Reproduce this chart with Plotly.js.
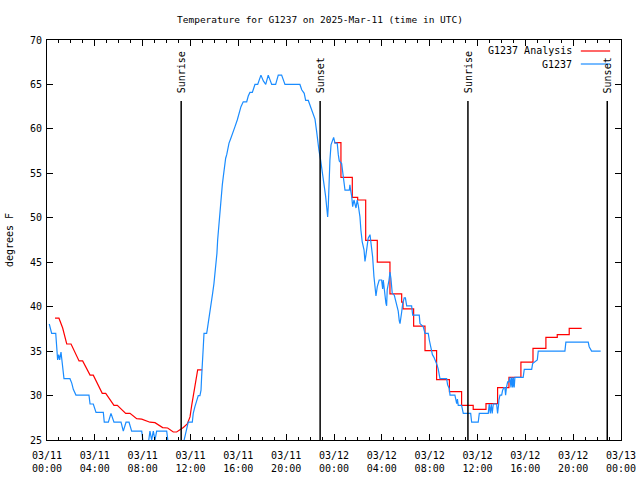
<!DOCTYPE html>
<html>
<head>
<meta charset="utf-8">
<script src="https://cdn.plot.ly/plotly-3.0.1.min.js"></script>
<style>html,body{margin:0;padding:0;background:#fff;}#chart{width:640px;height:480px;}</style>
</head>
<body>
<div id="chart"></div>
<script>
// Hours since 2025-03-11 00:00 UTC
var startUTC = Date.UTC(2025, 2, 11);

// G1237 observations
var obsHours = [0.19,0.29,0.39,0.73,0.89,0.98,1.06,1.17,1.25,1.31,1.42,1.92,2.07,2.20,2.42,3.51,3.60,3.87,4.10,4.71,4.79,5.13,5.35,5.60,6.19,6.38,6.61,6.86,7.08,7.92,8.05,8.47,8.61,8.75,8.89,9.03,9.17,10.01,10.14,11.40,11.54,11.68,11.81,12.15,12.23,12.37,12.52,12.65,12.79,12.88,12.93,12.98,13.07,13.13,13.35,13.40,13.55,13.69,13.77,13.85,13.96,14.05,14.13,14.21,14.27,14.38,14.46,14.55,14.66,14.74,14.82,14.94,15.03,15.11,15.22,15.36,15.58,15.72,15.91,16.08,16.22,16.41,16.70,16.83,16.97,17.17,17.39,17.62,17.89,18.09,18.29,18.50,18.79,19.12,19.34,19.62,19.90,21.15,21.30,21.51,21.63,21.85,21.99,22.13,22.27,22.41,22.55,22.63,22.74,22.88,22.97,23.10,23.19,23.30,23.39,23.47,23.52,23.58,23.66,23.75,23.89,23.97,24.08,24.27,24.36,24.44,24.64,24.72,24.77,24.83,24.92,25.28,25.33,25.39,25.48,25.56,25.67,25.84,25.94,26.03,26.17,26.25,26.36,26.51,26.59,26.67,26.78,26.86,27.01,27.15,27.23,27.34,27.42,27.51,27.62,27.70,27.78,27.98,28.07,28.12,28.20,28.34,28.40,28.45,28.60,28.68,28.76,28.87,29.04,29.24,29.37,29.46,29.52,29.66,29.74,29.87,29.97,30.08,30.49,30.58,31.13,31.19,31.46,31.61,31.88,31.97,32.08,32.23,32.36,32.53,32.63,32.72,32.86,33.42,33.50,33.64,33.70,34.11,34.20,34.26,34.32,34.39,34.67,34.76,34.81,35.43,35.51,36.06,36.15,36.90,36.98,37.07,37.15,37.23,37.32,37.60,37.68,37.77,37.79,37.88,38.02,38.10,38.21,38.29,38.35,38.42,38.52,38.63,38.71,38.80,38.86,38.94,38.99,39.07,39.13,39.82,39.91,40.53,40.61,41.00,41.08,43.31,43.39,45.26,45.34,45.54,46.30];
var obsTemp = [38.05,37.5,37.0,37.0,34.0,34.6,34.0,34.9,34.0,33.4,31.9,31.9,31.4,30.7,30.05,30.05,29.05,29.05,28.1,28.1,27.0,27.0,28.0,27.0,27.0,26.0,27.0,27.0,26.0,26.0,24.6,24.6,26.0,25.0,26.0,25.0,26.0,26.0,24.6,24.6,25.4,26.1,27.0,27.0,28.0,28.75,29.5,30.0,30.0,30.6,32.1,34.0,35.5,37.0,37.0,37.4,38.7,39.6,40.6,41.5,42.6,43.6,44.7,46.0,47.5,49.4,50.5,52.6,53.7,54.6,55.6,56.7,57.1,57.9,58.4,58.9,59.6,60.25,61.0,61.75,62.5,63.05,63.05,63.7,64.1,64.1,65.0,65.0,66.05,65.4,65.0,66.05,65.0,65.0,66.05,66.05,65.0,65.0,64.4,64.0,63.2,63.2,62.7,62.2,61.75,61.1,59.7,58.6,57.6,56.5,55.75,54.4,53.5,52.4,51.25,50.1,51.25,54.25,56.5,58.2,58.75,59.05,58.4,58.4,57.1,56.4,56.1,55.3,54.25,53.9,53.1,53.1,53.7,53.1,52.4,51.25,52.0,51.1,52.0,51.4,50.1,48.6,47.3,46.4,45.1,45.8,46.75,47.7,48.1,46.75,45.6,43.4,42.25,41.2,42.25,42.8,43.0,43.0,42.0,43.0,41.9,40.4,40.1,41.9,43.0,43.9,43.2,41.5,41.3,40.2,39.5,38.4,38.1,39.4,40.3,41.0,41.0,40.1,40.1,39.05,39.05,38.1,37.75,37.0,37.0,36.25,35.5,34.6,34.3,33.8,33.4,32.95,31.9,31.9,31.2,30.8,30.05,30.05,29.5,29.1,29.6,28.9,28.9,28.4,28.0,28.0,27.0,27.0,28.0,28.0,29.05,28.0,29.05,28.0,29.05,29.05,28.0,29.05,29.5,30.05,30.05,30.6,30.9,30.9,30.05,30.9,31.55,31.55,32.05,30.9,32.05,30.9,32.05,30.9,32.05,32.05,32.95,32.95,33.6,34.0,35.0,35.0,36.0,36.0,35.5,35.0,35.0];

// G1237 Analysis (night/morning of 03/11)
var anaHoursAM = [0.67,1.00,1.31,1.65,2.01,2.68,2.98,3.60,3.87,4.62,4.91,5.60,5.88,6.58,6.94,7.50,7.92,8.61,9.03,9.67,10.09,10.56,10.84,11.40,11.73,11.96,12.10,12.23,12.37,12.52,12.60,12.98];
var anaTempAM = [38.7,38.7,37.6,35.8,35.8,33.9,33.9,32.3,32.3,30.25,30.25,28.9,28.9,28.0,28.0,27.4,27.35,27.0,26.95,26.4,26.35,25.9,25.9,26.4,26.8,27.6,28.9,29.9,31.2,32.3,32.9,32.9];
// G1237 Analysis (hourly steps from 03/12 00:00)
var anaHoursPM = [24.02,24.58,25.53,25.98,26.65,27.62,28.68,29.66,29.77,30.66,31.61,32.58,33.65,34.67,35.64,36.71,37.68,38.63,39.63,40.64,41.72,42.67,43.67,44.71];
var anaTempPM = [58.45,54.55,52.3,52.0,47.45,45.0,41.45,40.5,39.75,37.8,35.05,31.8,30.45,28.9,28.45,29.1,30.9,32.05,33.75,35.3,36.55,36.85,37.55,37.55];

// Sun events
var sunHours = [11.22, 22.84, 35.20, 46.85];
var sunLabels = ["Sunrise", "Sunset", "Sunrise", "Sunset"];

var seriesNames = ["G1237 Analysis", "G1237"];
var seriesColors = ["#ff0000", "#1a8cff"];

function toDate(h) {
  var d = new Date(startUTC + Math.round(h * 3600000));
  return d.toISOString().slice(0, 19).replace('T', ' ');
}
var FONT = "DejaVu Sans Mono, monospace";

var traces = [
  {x: anaHoursAM.map(toDate), y: anaTempAM, type: 'scatter', mode: 'lines',
   line: {color: seriesColors[0], width: 1.2}, name: seriesNames[0], showlegend: false},
  {x: anaHoursPM.map(toDate), y: anaTempPM, type: 'scatter', mode: 'lines',
   line: {color: seriesColors[0], width: 1.2, shape: 'hv'}, name: seriesNames[0], showlegend: false},
  {x: obsHours.map(toDate), y: obsTemp, type: 'scatter', mode: 'lines',
   line: {color: seriesColors[1], width: 1.2}, name: seriesNames[1], showlegend: false}
];

var shapes = [];
var annotations = [];
sunHours.forEach(function (h, i) {
  shapes.push({type: 'line', xref: 'x', yref: 'paper', x0: toDate(h), x1: toDate(h), y0: 0, y1: 0.8475,
    line: {color: '#000', width: 1.5}, layer: 'above'});
  annotations.push({xref: 'x', yref: 'paper', x: toDate(h), y: 0.862, yanchor: 'bottom', xanchor: 'center',
    text: sunLabels[i], textangle: -90, showarrow: false, font: {family: FONT, size: 10, color: '#000'}});
});
// gnuplot-style key: text then line sample
seriesNames.forEach(function (n, i) {
  var yy = [0.9725, 0.94][i];
  annotations.push({xref: 'paper', yref: 'paper', x: 0.918, y: yy, xanchor: 'right', yanchor: 'middle',
    text: n, showarrow: false, font: {family: FONT, size: 10, color: '#000'}});
  shapes.push({type: 'line', xref: 'paper', yref: 'paper', x0: 0.930, x1: 0.981, y0: yy, y1: yy,
    line: {color: seriesColors[i], width: 1.2}});
});

var layout = {
  width: 640, height: 480,
  margin: {l: 47, r: 19, t: 40, b: 40},
  paper_bgcolor: '#fff', plot_bgcolor: '#fff',
  showlegend: false,
  hovermode: false,
  font: {family: FONT, size: 10, color: '#000'},
  title: {text: 'Temperature for G1237 on 2025-Mar-11 (time in UTC)', x: 0.5, xref: 'container', xanchor: 'center',
    y: 0.96, yref: 'container', yanchor: 'middle', font: {family: FONT, size: 9.5, color: '#000'}},
  xaxis: {
    type: 'date', range: [toDate(0), toDate(48)],
    tick0: toDate(0), dtick: 4 * 3600000, tickformat: '%m/%d<br>%H:%M',
    ticks: 'inside', ticklen: 6, tickcolor: '#000', tickwidth: 1, ticklabelstandoff: 6,
    minor: {dtick: 3600000, ticks: 'inside', ticklen: 3, tickcolor: '#000', showgrid: false},
    showline: true, linecolor: '#000', linewidth: 1, mirror: 'ticks',
    showgrid: false, zeroline: false, tickfont: {family: FONT, size: 10, color: '#000'}
  },
  yaxis: {
    range: [25, 70], dtick: 5, tick0: 25,
    ticks: 'inside', ticklen: 6, tickcolor: '#000', ticklabelstandoff: 2,
    showline: true, linecolor: '#000', linewidth: 1, mirror: 'ticks',
    showgrid: false, zeroline: false, tickfont: {family: FONT, size: 10, color: '#000'},
    title: {text: 'degrees F', standoff: 14, font: {family: FONT, size: 10, color: '#000'}}
  },
  shapes: shapes,
  annotations: annotations
};

Plotly.newPlot('chart', traces, layout, {staticPlot: true, displayModeBar: false});
</script>
</body>
</html>
